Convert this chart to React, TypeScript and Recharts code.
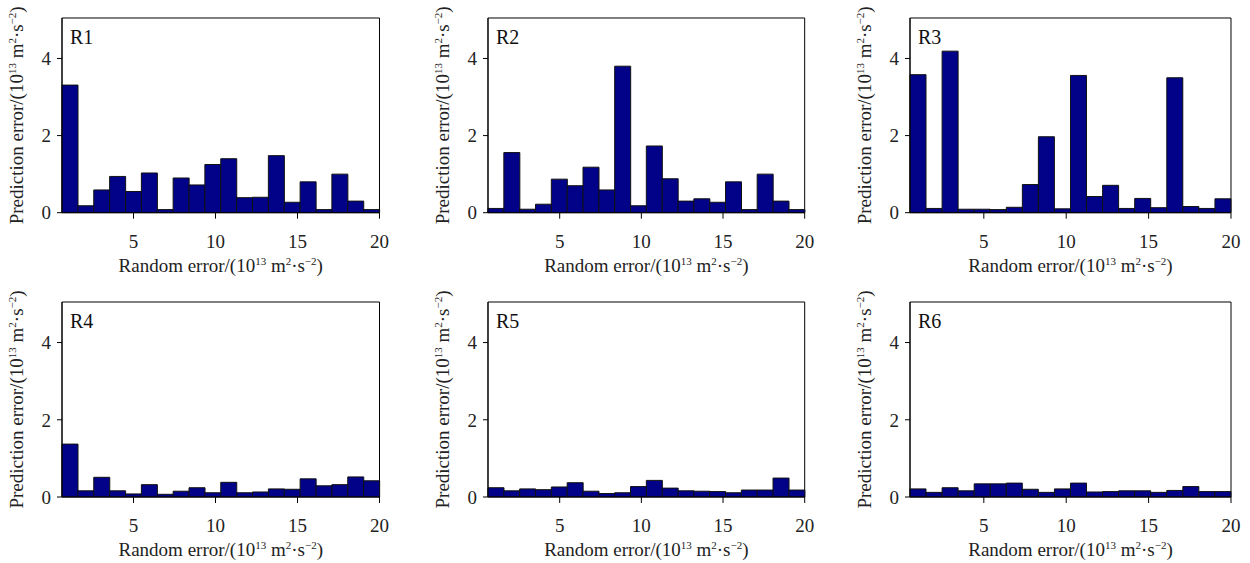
import React from 'react';
import { BarChart, Bar, XAxis, YAxis, ReferenceArea } from 'recharts';

const categories = Array.from({ length: 20 }, (_, i) => i + 1);
const xTicks = [5, 10, 15, 20];
const yTicks = [0, 2, 4];
const panelNames = ['R1', 'R2', 'R3', 'R4', 'R5', 'R6'];

const r1 = [3.31, 0.18, 0.59, 0.94, 0.55, 1.03, 0.08, 0.90, 0.72, 1.25, 1.40, 0.39, 0.40, 1.48, 0.27, 0.80, 0.08, 1.00, 0.30, 0.08];
const r2 = [0.11, 1.56, 0.09, 0.22, 0.87, 0.70, 1.18, 0.59, 3.80, 0.18, 1.73, 0.88, 0.30, 0.36, 0.27, 0.80, 0.08, 1.00, 0.30, 0.08];
const r3 = [3.58, 0.11, 4.19, 0.09, 0.09, 0.08, 0.14, 0.73, 1.97, 0.10, 3.56, 0.42, 0.71, 0.11, 0.37, 0.13, 3.50, 0.16, 0.11, 0.36];
const r4 = [1.37, 0.16, 0.51, 0.16, 0.08, 0.32, 0.07, 0.15, 0.24, 0.11, 0.38, 0.11, 0.13, 0.21, 0.20, 0.47, 0.29, 0.32, 0.52, 0.42];
const r5 = [0.24, 0.16, 0.21, 0.19, 0.26, 0.37, 0.15, 0.09, 0.11, 0.27, 0.43, 0.23, 0.16, 0.15, 0.14, 0.11, 0.18, 0.18, 0.49, 0.18];
const r6 = [0.21, 0.12, 0.24, 0.16, 0.34, 0.34, 0.36, 0.20, 0.12, 0.21, 0.36, 0.13, 0.14, 0.16, 0.16, 0.12, 0.17, 0.27, 0.14, 0.14];

const series = [r1, r2, r3, r4, r5, r6];

const FONT = '"Liberation Serif", "Times New Roman", serif';
const TEXT = '#222';
const FS = 19;
const SUP = 11;
const Y_MAX = 5.05;

// plot-area placement per panel column (left, width, x-axis start) and per row (top, height)
const cols = [
  { left: 62, width: 317.5, xMin: 0.64 },
  { left: 488.3, width: 316.7, xMin: 0.61 },
  { left: 910, width: 321, xMin: 0.52 },
];
const rows = [
  { top: 18, height: 194.7 },
  { top: 301.7, height: 195 },
];

const Y_AXIS_W = 40;
const X_AXIS_H = 30;
const EXTRA_LEFT = 62;
const EXTRA_RIGHT = 20;
const EXTRA_TOP = 18;
const EXTRA_BOTTOM = 66;

const UnitText = ({ prefix }: { prefix: string }) => (
  <>
    <tspan>{prefix}(10</tspan>
    <tspan fontSize={SUP} dy={-7}>13</tspan>
    <tspan dy={7}> m</tspan>
    <tspan fontSize={SUP} dy={-7}>2</tspan>
    <tspan dy={7}>·s</tspan>
    <tspan fontSize={SUP} dy={-7}>−2</tspan>
    <tspan dy={7}>)</tspan>
  </>
);

const XLabel = (props: any) => {
  const vb = props.viewBox || {};
  const cx = vb.x + vb.width / 2;
  const y = vb.y + 59;
  return (
    <text x={cx} y={y} textAnchor="middle" fontFamily={FONT} fontSize={FS} fill={TEXT}>
      <UnitText prefix="Random error/" />
    </text>
  );
};

const YLabel = (props: any) => {
  const vb = props.viewBox || {};
  const x = vb.x + vb.width - 39;
  const cy = vb.y + vb.height / 2;
  return (
    <text
      x={x}
      y={cy}
      textAnchor="middle"
      fontFamily={FONT}
      fontSize={FS}
      fill={TEXT}
      transform={`rotate(-90, ${x}, ${cy})`}
    >
      <UnitText prefix="Prediction error/" />
    </text>
  );
};

const makePanelLabel = (name: string) => (props: any) => {
  const vb = props.viewBox || {};
  return (
    <text x={vb.x + 8} y={vb.y + 26} fontFamily={FONT} fontSize={20} fill="#111">
      {name}
    </text>
  );
};

const Panel = ({ idx }: { idx: number }) => {
  const col = cols[idx % 3];
  const row = rows[Math.floor(idx / 3)];
  const values = series[idx];
  const data = categories.map((c, i) => ({ idx: c, v: values[i] }));
  const width = col.width + EXTRA_LEFT + EXTRA_RIGHT;
  const height = row.height + EXTRA_TOP + EXTRA_BOTTOM;
  return (
    <div
      style={{
        position: 'absolute',
        left: col.left - EXTRA_LEFT,
        top: row.top - EXTRA_TOP,
        width,
        height,
      }}
    >
      <BarChart
        width={width}
        height={height}
        data={data}
        barCategoryGap={0}
        barGap={0}
        margin={{
          top: EXTRA_TOP,
          right: EXTRA_RIGHT,
          left: EXTRA_LEFT - Y_AXIS_W,
          bottom: EXTRA_BOTTOM - X_AXIS_H,
        }}
      >
        <XAxis xAxisId="cat" dataKey="idx" type="category" hide height={0} />
        <XAxis
          xAxisId="num"
          dataKey="idx"
          type="number"
          domain={[col.xMin, 20]}
          ticks={xTicks}
          allowDataOverflow
          height={X_AXIS_H}
          tickSize={6}
          tickMargin={16}
          axisLine={{ stroke: '#000', strokeWidth: 1 }}
          tickLine={{ stroke: '#000', strokeWidth: 1 }}
          tick={{ fontFamily: FONT, fontSize: FS, fill: TEXT }}
          label={<XLabel />}
        />
        <YAxis
          type="number"
          domain={[0, Y_MAX]}
          ticks={yTicks}
          allowDataOverflow
          width={Y_AXIS_W}
          tickSize={5}
          tickMargin={6}
          axisLine={{ stroke: '#000', strokeWidth: 1 }}
          tickLine={{ stroke: '#000', strokeWidth: 1 }}
          tick={{ fontFamily: FONT, fontSize: FS, fill: TEXT }}
          label={<YLabel />}
        />
        <Bar
          xAxisId="cat"
          dataKey="v"
          fill="#020288"
          stroke="#111"
          strokeWidth={1}
          isAnimationActive={false}
        />
        <ReferenceArea
          xAxisId="num"
          x1={col.xMin}
          x2={20}
          y1={0}
          y2={Y_MAX}
          fill="none"
          stroke="#000"
          strokeWidth={1}
          ifOverflow="visible"
          label={makePanelLabel(panelNames[idx])}
        />
      </BarChart>
    </div>
  );
}

export default function App() {
  return (
    <div
      style={{
        position: 'absolute',
        left: 0,
        top: 0,
        width: 1250,
        height: 563,
        background: '#fff',
      }}
    >
      {panelNames.map((_, i) => (
        <Panel key={i} idx={i} />
      ))}
    </div>
  );
}
